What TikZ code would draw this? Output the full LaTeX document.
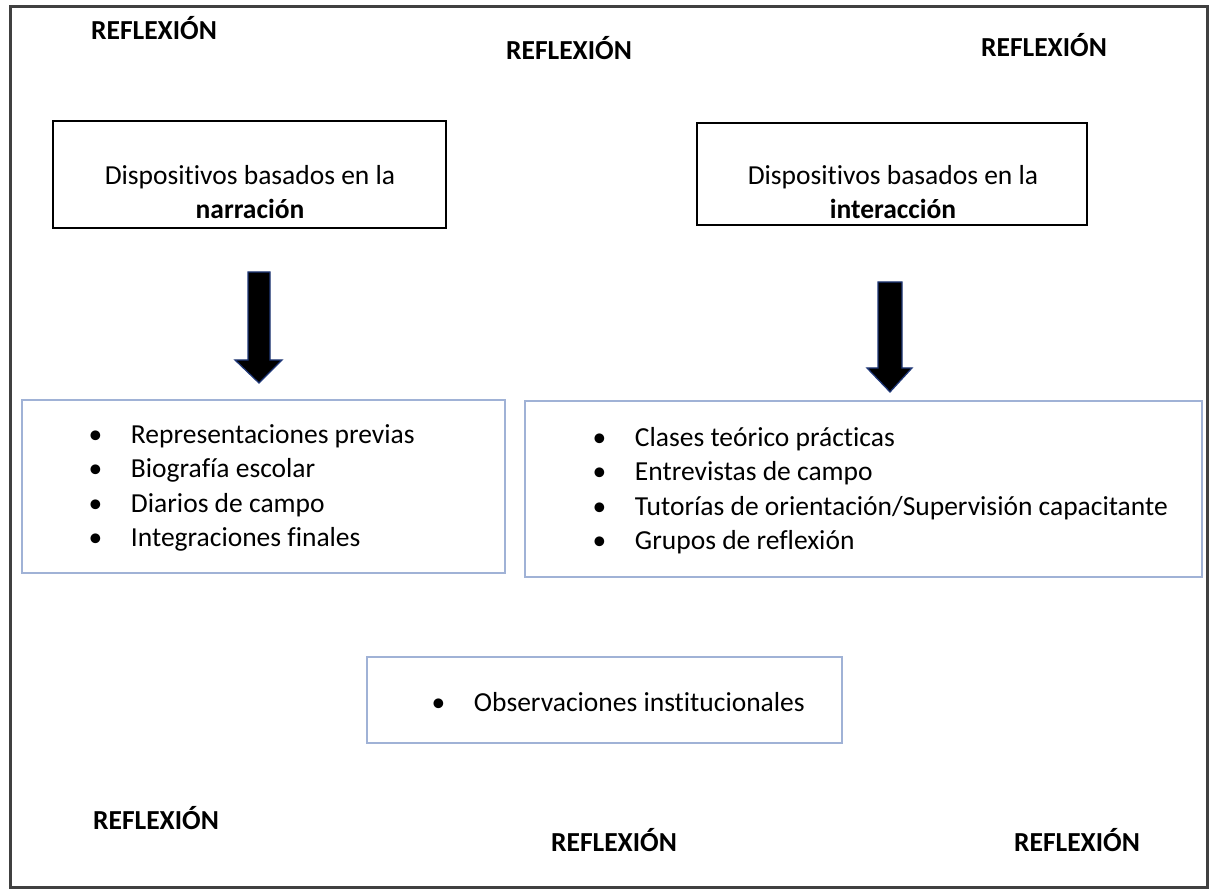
\documentclass[tikz,border=0pt]{standalone}
\usepackage{fontspec}
\setmainfont{Carlito}[Ligatures=CommonOff]
\usetikzlibrary{positioning}

\definecolor{framegray}{RGB}{64,64,64}
\definecolor{listblue}{RGB}{160,178,214}
\definecolor{arrowblue}{RGB}{32,56,120}

\tikzset{
  reflex/.style={font=\fontsize{11}{13.4}\selectfont\bfseries, inner sep=0pt},
  headbox/.style={draw=black, line width=0.8pt, inner sep=0pt},
  listbox/.style={draw=listblue, line width=0.6pt, inner sep=0pt},
  bodytext/.style={font=\fontsize{11}{13.4}\selectfont, align=center, inner sep=0pt},
  listtext/.style={font=\fontsize{11}{13.8}\selectfont, inner sep=0pt, anchor=west},
  blockarrow/.style={fill=black, draw=arrowblue, line width=0.5pt, line join=miter},
}
\newcommand{\itm}[1]{\makebox[17pt][l]{\textbullet}#1}

\begin{document}
\begin{tikzpicture}[x=0.4pt,y=-0.4pt]
\useasboundingbox (0,0) rectangle (1215,891);
\fill[white] (0,0) rectangle (1215,891);

% outer frame
\draw[framegray, line width=1.2pt] (10,7) rectangle (1207,888);

% reflexion labels
\node[reflex] (reflexTL) at (154,28) {REFLEXIÓN};
\node[reflex] (reflexTM) at (569,48) {REFLEXIÓN};
\node[reflex] (reflexTR) at (1044,45) {REFLEXIÓN};
\node[reflex] (reflexBL) at (156,818) {REFLEXIÓN};
\node[reflex] (reflexBM) at (614,840) {REFLEXIÓN};
\node[reflex] (reflexBR) at (1077,840) {REFLEXIÓN};

% device boxes
\node[headbox, minimum width=157.2pt, minimum height=42.8pt] (narr) at (249.5,174.5) {};
\node[bodytext] (narrtxt) at (250,192) {Dispositivos basados en la\\\textbf{narración}};
\node[headbox, minimum width=156pt, minimum height=40.8pt] (inter) at (892,174) {};
\node[bodytext] (intertxt) at (893,192) {Dispositivos basados en la\\\textbf{interacción}};

% block arrows
\coordinate (arrA) at (259,272);
\filldraw[blockarrow] (arrA)+(-11,0) -- +(11,0) -- +(11,88) -- +(23,88)
    -- +(0,111) -- +(-24,88) -- +(-11,88) -- cycle;
\coordinate (arrB) at (890,282);
\filldraw[blockarrow] (arrB)+(-12,0) -- +(12,0) -- +(12,86) -- +(22,86)
    -- +(0,110) -- +(-23,86) -- +(-12,86) -- cycle;

% lists
\node[listbox, minimum width=193.2pt, minimum height=69.2pt] (listnarr) at (263.5,486.5) {};
\node[listtext] (itemsnarr) at (88,488) {%
  \begin{tabular}{@{}l@{}}
  \itm{Representaciones previas}\\
  \itm{Biografía escolar}\\
  \itm{Diarios de campo}\\
  \itm{Integraciones finales}
  \end{tabular}};

\node[listbox, minimum width=270.8pt, minimum height=70.4pt] (listinter) at (863.5,489) {};
\node[listtext] (itemsinter) at (592,491) {%
  \begin{tabular}{@{}l@{}}
  \itm{Clases teórico prácticas}\\
  \itm{Entrevistas de campo}\\
  \itm{Tutorías de orientación/Supervisión capacitante}\\
  \itm{Grupos de reflexión}
  \end{tabular}};

\node[listbox, minimum width=190pt, minimum height=34.4pt] (listobs) at (604.5,700) {};
\node[listtext] (itemsobs) at (431,702) {\itm{Observaciones institucionales}};
\end{tikzpicture}
\end{document}
